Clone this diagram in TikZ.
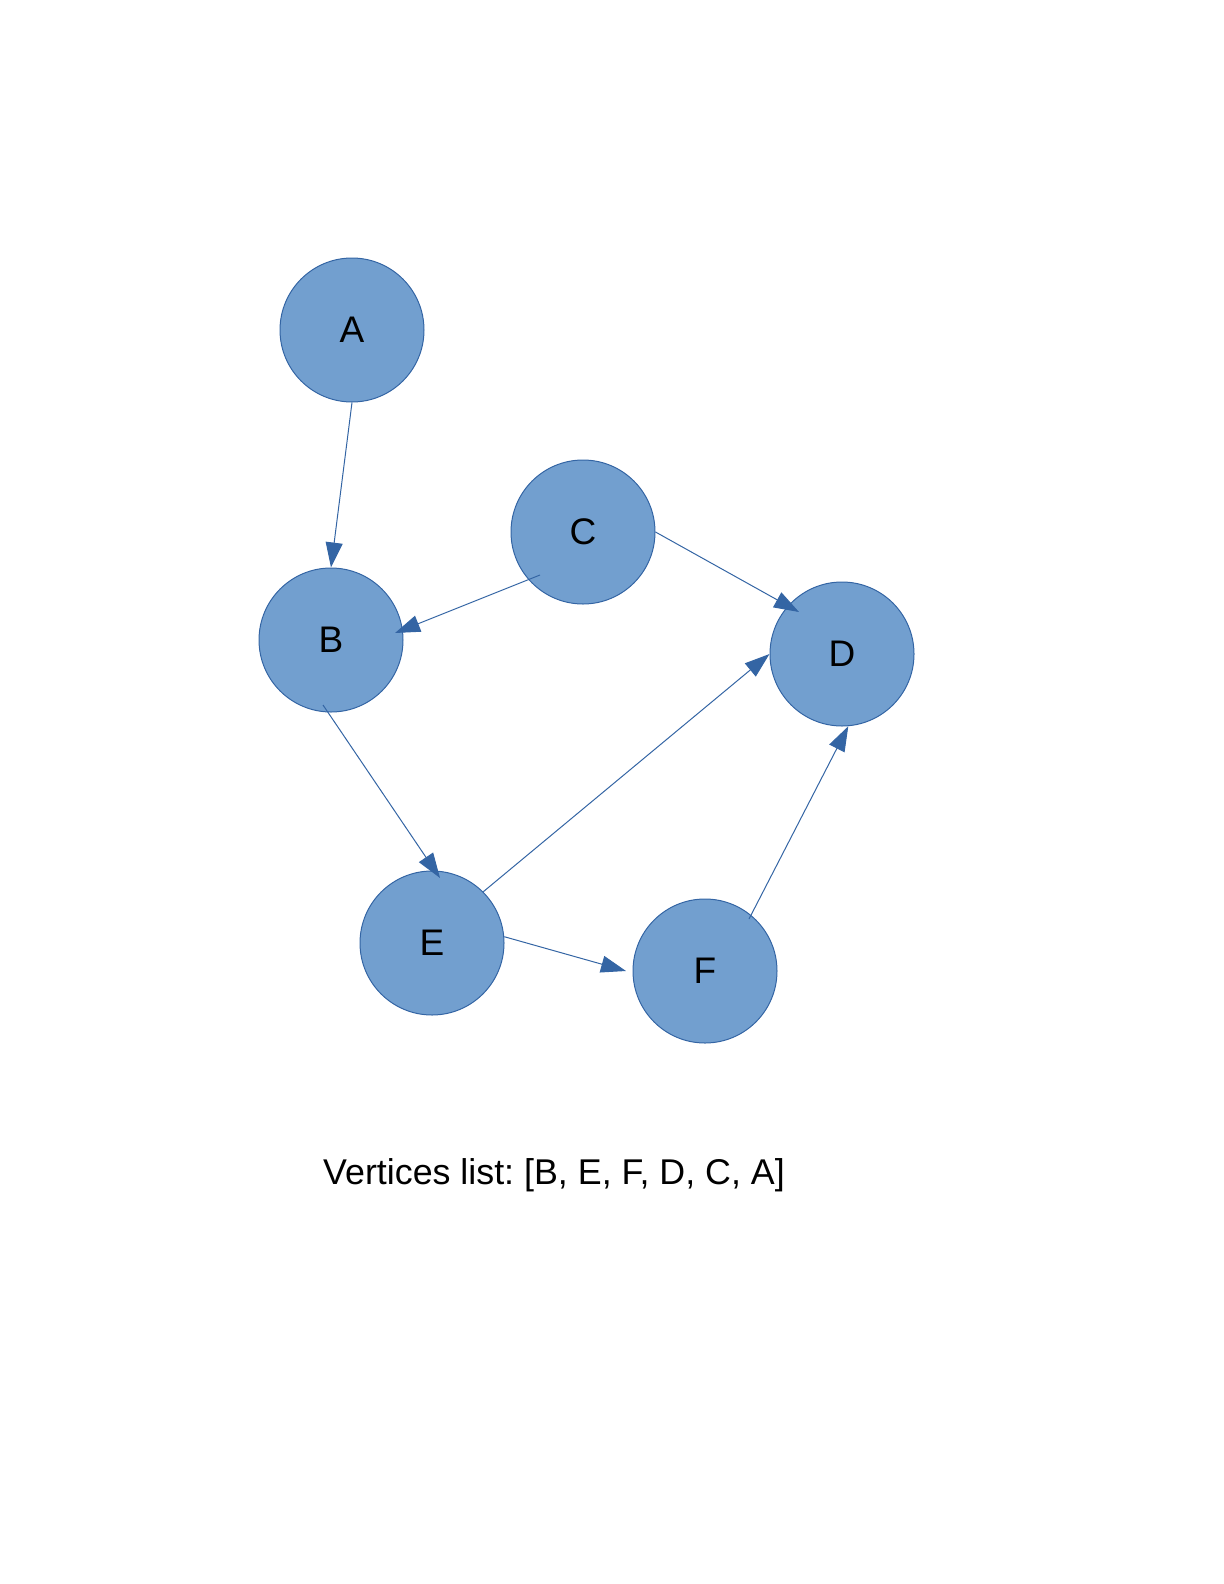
\documentclass[tikz,border=0pt]{standalone}
\usepackage{fontspec}
\setmainfont{Liberation Sans}
\frenchspacing
\usetikzlibrary{arrows.meta}
\definecolor{vfill}{HTML}{729FCF}
\definecolor{vline}{HTML}{3465A4}
\tikzset{
  vertex/.style={circle,draw=vline,fill=vfill,line width=0.5pt,minimum size=72pt,inner sep=0pt,font=\fontsize{18.5}{18.5}\selectfont},
  edge/.style={draw=vline,line width=0.5pt,-{Triangle[length=12.5pt,width=8.5pt]}}
}
\begin{document}
\begin{tikzpicture}[x=0.5pt,y=-0.5pt]
    \useasboundingbox (0,0) rectangle (1224,1584);
    \node[vertex] (A) at (352,330) {A};
    \node[vertex] (C) at (583,532) {C};
    \node[vertex] (B) at (331,640) {B};
    \node[vertex] (D) at (842,654) {D};
    \node[vertex] (E) at (432,943) {E};
    \node[vertex] (F) at (705,971) {F};
    \draw[edge] (A.270) -- (B.90);
    \draw[edge] ([shift={(-43,43)}]C.center) -- ([shift={(64,-7)}]B.center);
    \draw[edge] (C.0) -- ([shift={(-43,-42)}]D.center);
    \draw[edge] ([shift={(-8,65)}]B.center) -- ([shift={(8,-65)}]E.center);
    \draw[edge] (E.45) -- (D.180);
    \draw[edge] (E.5) -- ([shift={(-79,0)}]F.center);
    \draw[edge] ([shift={(44,-52)}]F.center) -- (D.-85);
    \node[font=\fontsize{17.9}{18}\selectfont] (list) at (554,1175) {Vertices list: [B, E, F, D, C, A]};
\end{tikzpicture}
\end{document}
